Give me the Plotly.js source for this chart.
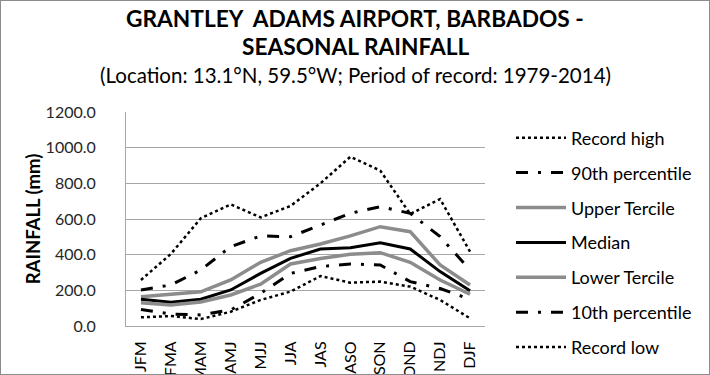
<!DOCTYPE html>
<html>
<head>
<meta charset="utf-8">
<script src="https://cdn.plot.ly/plotly-3.0.1.min.js"></script>
<style>
html,body{margin:0;padding:0;background:#fff;}
#chart{width:708px;height:373px;border:1px solid #8c8c8c;}
</style>
</head>
<body>
<div id="chart"></div>
<script>
const seasons = ["JFM","FMA","MAM","AMJ","MJJ","JJA","JAS","ASO","SON","OND","NDJ","DJF"];
const recordHigh = [258, 404, 604, 682, 609, 673, 800, 949, 871, 628, 712, 417];
const pct90 = [202, 230, 314, 445, 505, 501, 566, 632, 669, 632, 501, 314];
const upperTercile = [164, 179, 192, 258, 357, 422, 460, 505, 557, 529, 342, 230];
const median = [150, 133, 150, 202, 295, 379, 432, 439, 467, 432, 305, 198];
const lowerTercile = [131, 118, 135, 174, 235, 348, 379, 402, 411, 357, 258, 178];
const pct10 = [93, 67, 62, 90, 183, 295, 333, 348, 342, 249, 210, 150];
const recordLow = [49, 56, 39, 80, 146, 193, 280, 243, 249, 221, 146, 43];

const seriesNames = ["Record high","90th percentile","Upper Tercile","Median","Lower Tercile","10th percentile","Record low"];
const seriesData = [recordHigh, pct90, upperTercile, median, lowerTercile, pct10, recordLow];
const styles = [
  {color:"#000000", width:2.5, dash:"dot"},
  {color:"#000000", width:3, dash:"12px,10px,3px,10px"},
  {color:"#8c8c8c", width:3.5, dash:"solid"},
  {color:"#000000", width:3, dash:"solid"},
  {color:"#8c8c8c", width:3.5, dash:"solid"},
  {color:"#000000", width:3, dash:"12px,10px,3px,10px"},
  {color:"#000000", width:2.5, dash:"dot"}
];

const traces = seriesNames.map((n,i)=>({
  x: seasons, y: seriesData[i], name: n, type: "scatter", mode: "lines",
  legendgroup: "g"+i, line: styles[i], hoverinfo: "skip"
}));

const font = "Lato, 'Open Sans', sans-serif";
const titleX = (355 - 126) / 359;
const layout = {
  width: 708, height: 373,
  margin: {l:125, r:224, t:111, b:48, pad:0, autoexpand: false},
  paper_bgcolor: "#ffffff", plot_bgcolor: "#ffffff",
  font: {family: font, size: 14, color: "#262626"},
  annotations: [
    {text: "<b>GRANTLEY  ADAMS AIRPORT, BARBADOS -</b>", xref: "paper", yref: "paper",
     x: titleX, y: 1.439, xanchor: "center", yanchor: "middle", showarrow: false,
     font: {family: font, size: 22.7, color: "#000000"}},
    {text: "<b>SEASONAL RAINFALL</b>", xref: "paper", yref: "paper",
     x: titleX, y: 1.304, xanchor: "center", yanchor: "middle", showarrow: false,
     font: {family: font, size: 22.7, color: "#000000"}},
    {text: "(Location: 13.1°N, 59.5°W; Period of record: 1979-2014)", xref: "paper", yref: "paper",
     x: titleX, y: 1.173, xanchor: "center", yanchor: "middle", showarrow: false,
     font: {family: font, size: 20.5, color: "#000000"}}
  ],
  xaxis: {
    type: "category", tickangle: -90, showgrid: false, showline: true,
    linecolor: "#a6a6a6", linewidth: 1, ticks: "", zeroline: false,
    tickfont: {family: font, size: 16, color: "#000000"}, fixedrange: true,
    range: [-0.5, 11.5], ticklabelstandoff: 8
  },
  yaxis: {
    range: [0, 1200], dtick: 200, tickformat: ".1f", showgrid: true,
    gridcolor: "#a6a6a6", gridwidth: 1, showline: true, linecolor: "#a6a6a6",
    zeroline: false, ticks: "", ticklabelstandoff: 26,
    tickfont: {family: font, size: 16, color: "#262626"},
    title: {text: "<b>RAINFALL (mm)</b>", font: {family: font, size: 18.5, color: "#000000"}, standoff: 0}
  },
  legend: {
    x: 1.0724, xanchor: "left", y: 0.965, yanchor: "top",
    font: {family: font, size: 18, color: "#000000"},
    tracegroupgap: 8.5, itemwidth: 50, maxheight: 300, bgcolor: "rgba(0,0,0,0)"
  },
  showlegend: true
};

Plotly.newPlot("chart", traces, layout, {staticPlot: true, displayModeBar: false});
</script>
</body>
</html>
